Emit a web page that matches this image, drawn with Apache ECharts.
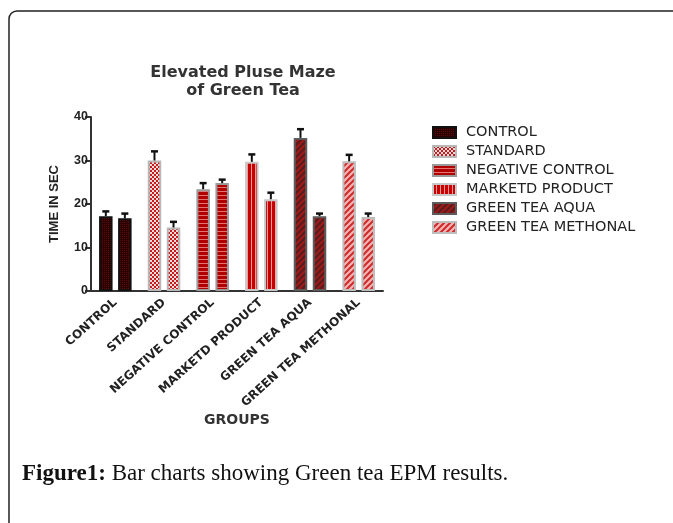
<!DOCTYPE html>
<html><head><meta charset="utf-8">
<script src="https://cdn.jsdelivr.net/npm/echarts@6/dist/echarts.min.js"></script>
<style>html,body{margin:0;padding:0;background:#fff}#c{width:673px;height:523px}</style>
</head><body><div id="c"></div>
<script>
const categories = ['CONTROL','STANDARD','NEGATIVE CONTROL','MARKETD PRODUCT','GREEN TEA AQUA','GREEN TEA METHONAL'];
const meanA = [17.2, 30.0, 23.4, 29.7, 35.2, 29.8];
const meanB = [16.7, 14.6, 24.8, 21.1, 17.2, 17.0];
const errA  = [1.1, 2.1, 1.4, 1.7, 2.0, 1.5];
const errB  = [1.1, 1.3, 0.8, 1.5, 0.6, 0.8];
const yTicks = [0, 10, 20, 30, 40];

const BAR_W = 13.5, GAP = 0.41;
const ARIAL = '"Liberation Sans", Arial, sans-serif';
const WIDE = '"DejaVu Sans", Verdana, sans-serif';

function pat(w, h, draw) {
  const c = document.createElement('canvas');
  c.width = w; c.height = h;
  const g = c.getContext('2d');
  draw(g, w, h);
  return { image: c, repeat: 'repeat' };
}
function diag(base, stripe) {
  return pat(6, 6, (g, w, h) => {
    g.fillStyle = base; g.fillRect(0, 0, w, h);
    g.strokeStyle = stripe; g.lineWidth = 2;
    g.beginPath();
    g.moveTo(-1, 7); g.lineTo(7, -1);
    g.moveTo(-1, 1); g.lineTo(1, -1);
    g.moveTo(5, 7); g.lineTo(7, 5);
    g.stroke();
  });
}
const styles = [
  { color: pat(4, 4, (g) => { g.fillStyle = '#2a0202'; g.fillRect(0,0,4,4); g.fillStyle = '#5e0b0b'; g.fillRect(0,0,1,1); g.fillRect(2,2,1,1); g.fillRect(2,0,1,1); g.fillRect(0,2,1,1); }), borderColor: '#111' },
  { color: pat(4, 4, (g) => { g.fillStyle = '#e9dcdc'; g.fillRect(0,0,4,4); g.fillStyle = '#c81a1a'; g.fillRect(0,0,2,2); g.fillRect(2,2,2,2); }), borderColor: '#b8b8b8' },
  { color: pat(1, 4, (g) => { g.fillStyle = '#b00000'; g.fillRect(0,0,1,4); g.fillStyle = '#e77272'; g.fillRect(0,3,1,1); }), borderColor: '#9a9a9a' },
  { color: pat(4, 1, (g) => { g.fillStyle = '#c80000'; g.fillRect(0,0,4,1); g.fillStyle = '#f09a9a'; g.fillRect(3,0,1,1); }), borderColor: '#c8c8c8' },
  { color: diag('#5a1c1c', '#a01a1a'), borderColor: '#5c5c5c' },
  { color: diag('#f2b4b4', '#cf2a2a'), borderColor: '#bdbdbd' }
];

function barData(vals) {
  return vals.map((v, i) => ({ value: v, itemStyle: { color: styles[i].color, borderColor: styles[i].borderColor, borderWidth: 2 } }));
}
const errData = [];
meanA.forEach((m, i) => errData.push([i, 0, m, m + errA[i]]));
meanB.forEach((m, i) => errData.push([i, 1, m, m + errB[i]]));

const legendSeries = categories.map((name, i) => ({
  name, type: 'bar', xAxisIndex: 1, data: [],
  itemStyle: { color: styles[i].color, borderColor: styles[i].borderColor, borderWidth: 1 }
}));

const chart = echarts.init(document.getElementById('c'), null, { renderer: 'canvas' });
chart.setOption({
  animation: false,
  backgroundColor: '#fff',
  textStyle: { fontFamily: ARIAL },
  title: {
    text: 'Elevated Pluse Maze\nof Green Tea',
    left: 238, top: 59, textAlign: 'center',
    textStyle: { fontFamily: WIDE, fontSize: 16, fontWeight: 'bold', color: '#333', lineHeight: 18 }
  },
  legend: {
    orient: 'vertical', left: 427, top: 120, itemGap: 4,
    itemWidth: 23, itemHeight: 11, icon: 'rect', selectedMode: false,
    data: categories,
    textStyle: { fontFamily: WIDE, fontSize: 14.5, color: '#222', padding: [0, 0, 0, 5] }
  },
  grid: { left: 91, right: 290, top: 117, bottom: 232, containLabel: false },
  xAxis: [{
    type: 'category', data: categories,
    name: 'GROUPS', nameLocation: 'middle', nameGap: 122,
    nameTextStyle: { fontFamily: WIDE, fontSize: 14, fontWeight: 'bold', color: '#333' },
    axisLine: { lineStyle: { color: '#333', width: 2 } },
    axisTick: { alignWithLabel: true, length: 5, lineStyle: { color: '#333', width: 2 } },
    axisLabel: { rotate: 42, margin: 10, interval: 0, fontFamily: WIDE, fontSize: 12, fontWeight: 'bold', color: '#222' }
  }, {
    type: 'category', data: categories, show: false
  }],
  yAxis: {
    type: 'value', min: yTicks[0], max: yTicks[yTicks.length - 1], interval: 10,
    name: 'TIME IN SEC', nameLocation: 'middle', nameGap: 30,
    nameTextStyle: { fontFamily: ARIAL, fontSize: 13, fontWeight: 'bold', color: '#222' },
    axisLine: { show: true, lineStyle: { color: '#333', width: 2 } },
    axisTick: { show: true, length: 6, lineStyle: { color: '#333', width: 2 } },
    axisLabel: { margin: 3, fontFamily: ARIAL, fontSize: 12.5, fontWeight: 'bold', color: '#222' },
    splitLine: { show: false }
  },
  series: [
    { name: 'A', type: 'bar', barWidth: BAR_W, barGap: (GAP * 100) + '%', data: barData(meanA) },
    { name: 'B', type: 'bar', barWidth: BAR_W, barGap: (GAP * 100) + '%', data: barData(meanB) },
    {
      name: 'err', type: 'custom', data: errData, z: 5,
      renderItem: (params, api) => {
        const cat = api.value(0), side = api.value(1);
        const off = (BAR_W * (1 + GAP) / 2) * (side === 0 ? -1 : 1);
        const p0 = api.coord([cat, api.value(2)]);
        const p1 = api.coord([cat, api.value(3)]);
        const x = p0[0] + off;
        return {
          type: 'group', children: [
            { type: 'line', shape: { x1: x, y1: p0[1], x2: x, y2: p1[1] }, style: { stroke: '#111', lineWidth: 2 } },
            { type: 'line', shape: { x1: x - 3.5, y1: p1[1], x2: x + 3.5, y2: p1[1] }, style: { stroke: '#111', lineWidth: 2.5 } }
          ]
        };
      }
    },
    ...legendSeries
  ],
  graphic: [
    { type: 'rect', shape: { x: 9, y: 11, width: 700, height: 560, r: 8 }, style: { fill: 'none', stroke: '#222', lineWidth: 1.5 }, z: -1 },
    { type: 'text', x: 22, y: 474, style: {
      text: '{b|Figure1:} Bar charts showing Green tea EPM results.',
      verticalAlign: 'middle',
      font: '23px "Liberation Serif", "Times New Roman", serif', fill: '#111',
      rich: { b: { fontWeight: 'bold', fontFamily: '"Liberation Serif", serif', fontSize: 23, fill: '#111' } }
    } }
  ]
});
</script></body></html>
